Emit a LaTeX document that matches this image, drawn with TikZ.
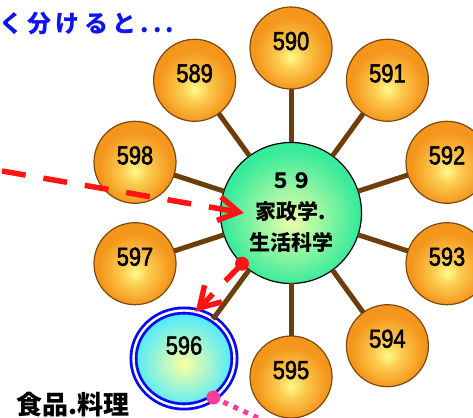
\documentclass[tikz,border=0pt]{standalone}
\usepackage{fontspec}
\usepackage{tkz-graph}
\usetikzlibrary{arrows.meta}
\usetikzlibrary{shapes}
\newfontfamily\jpfont{Noto Sans CJK JP}
\newfontfamily\numfont[FakeStretch=0.84, FakeBold=2]{Liberation Sans}
\definecolor{spokeBrown}{RGB}{110,62,10}
\definecolor{leafRim}{RGB}{125,72,15}
\definecolor{leafInner}{RGB}{255,250,140}
\definecolor{leafMid}{RGB}{252,205,80}
\definecolor{leafOuter}{RGB}{244,150,28}
\definecolor{hubInner}{RGB}{238,255,170}
\definecolor{hubOuter}{RGB}{55,235,155}
\definecolor{pickInner}{RGB}{252,255,160}
\definecolor{pickOuter}{RGB}{85,235,250}
\definecolor{pickBlue}{RGB}{10,10,240}
\definecolor{jumpRed}{RGB}{255,20,20}
\definecolor{linkPink}{RGB}{255,60,150}
\definecolor{titleBlue}{RGB}{15,20,235}
\pgfdeclareradialshading{leafShade}{\pgfpoint{0bp}{-6bp}}{color(0bp)=(leafInner); color(8bp)=(leafMid); color(22bp)=(leafOuter); color(50bp)=(leafOuter)}
\pgfdeclareradialshading{hubShade}{\pgfpoint{0bp}{-3bp}}{color(0bp)=(hubInner); color(24bp)=(hubOuter); color(50bp)=(hubOuter)}
\pgfdeclareradialshading{pickShade}{\pgfpoint{0bp}{-3bp}}{color(0bp)=(pickInner); color(24bp)=(pickOuter); color(50bp)=(pickOuter)}

\begin{document}
\begin{tikzpicture}[x = 1pt, y = 1pt]
	\tikzstyle{VertexStyle} = []
	\tikzstyle{EdgeStyle} = []
	\tikzstyle{leafStyle}=[shape = circle, minimum size = 82pt, inner sep = 0pt, draw = leafRim, line width = 1.2pt, shading = leafShade, font = \numfont\fontsize{26}{26}\selectfont, text height = 18pt, text depth = 14pt]
	\tikzstyle{hubStyle}=[shape = circle, minimum size = 141pt, inner sep = 0pt, draw, line width = 1.2pt, shading = hubShade, align = center, font = \jpfont\bfseries\fontsize{21}{31}\selectfont]
	\tikzstyle{pickStyle}=[shape = ellipse, minimum width = 101pt, minimum height = 96pt, inner sep = 0pt, draw = pickBlue, line width = 2.8pt, double = white, double distance = 2.4pt, shading = pickShade, font = \numfont\fontsize{26}{26}\selectfont, text height = 18pt, text depth = 26pt]
	\tikzstyle{spokeStyle}=[draw = spokeBrown, line width = 5pt]
	\tikzstyle{jumpStyle}=[draw = jumpRed, line width = 5.5pt, dash pattern = on 24pt off 18pt, -{Straight Barb[length = 20pt, width = 24pt]}]
	\tikzstyle{dotStyle}=[shape = circle, minimum size = 14pt, inner sep = 0pt, fill]
	\tikzstyle{linkStyle}=[draw = linkPink, line width = 5pt, dash pattern = on 5pt off 6pt]
	\useasboundingbox (0, 0) rectangle (473, 417);
	\clip (0, 0) rectangle (473, 417);
	\Vertex[style = hubStyle, x = 291, y = 204, L = {５９\\家政学.\\生活科学}]{hub}
	\Vertex[style = leafStyle, x = 291, y = 369, L = {590}]{v590}
	\Vertex[style = leafStyle, x = 387.4, y = 336.7, L = {591}]{v591}
	\Vertex[style = leafStyle, x = 447, y = 254.7, L = {592}]{v592}
	\Vertex[style = leafStyle, x = 447, y = 153.3, L = {593}]{v593}
	\Vertex[style = leafStyle, x = 387.4, y = 71.3, L = {594}]{v594}
	\Vertex[style = leafStyle, x = 291, y = 40, L = {595}]{v595}
	\Vertex[style = pickStyle, x = 184, y = 58.5, L = {596}]{v596}
	\Vertex[style = leafStyle, x = 135, y = 153.3, L = {597}]{v597}
	\Vertex[style = leafStyle, x = 135, y = 254.7, L = {598}]{v598}
	\Vertex[style = leafStyle, x = 194.6, y = 336.7, L = {589}]{v589}
	\Edge[style = spokeStyle](hub)(v590)
	\Edge[style = spokeStyle](hub)(v591)
	\Edge[style = spokeStyle](hub)(v592)
	\Edge[style = spokeStyle](hub)(v593)
	\Edge[style = spokeStyle](hub)(v594)
	\Edge[style = spokeStyle](hub)(v595)
	\Edge[style = spokeStyle](hub)(v596)
	\Edge[style = spokeStyle](hub)(v597)
	\Edge[style = spokeStyle](hub)(v598)
	\Edge[style = spokeStyle](hub)(v589)
	% arrows in and out of the hub
	\coordinate (jumpFrom) at (2, 246);
	\coordinate (jumpTo) at ([xshift = -47pt]hub.center);
	\draw[jumpStyle] (jumpFrom) -- (jumpTo);
	\node[dotStyle, jumpRed] (jumpDot) at (hub.-134) {};
	\draw[jumpStyle] (jumpDot.center) -- (v596.76);
	\node[dotStyle, linkPink] (linkDot) at (v596.-53) {};
	\coordinate (offPage) at (339, -38);
	\draw[linkStyle] (linkDot.center) -- (offPage);
	% texts
	\node[anchor = west, inner sep = 0pt, text = titleBlue, font = \jpfont\bfseries\fontsize{24}{24}\selectfont\addfontfeature{LetterSpace = 18}] (title) at (-1, 393) {く分けると.\hspace{4pt}.\hspace{4pt}.};
	\node[anchor = base west, inner sep = 0pt, font = \jpfont\bfseries\fontsize{26}{26}\selectfont] (food) at (16, 3) {食品.料理};
\end{tikzpicture}
\end{document}
